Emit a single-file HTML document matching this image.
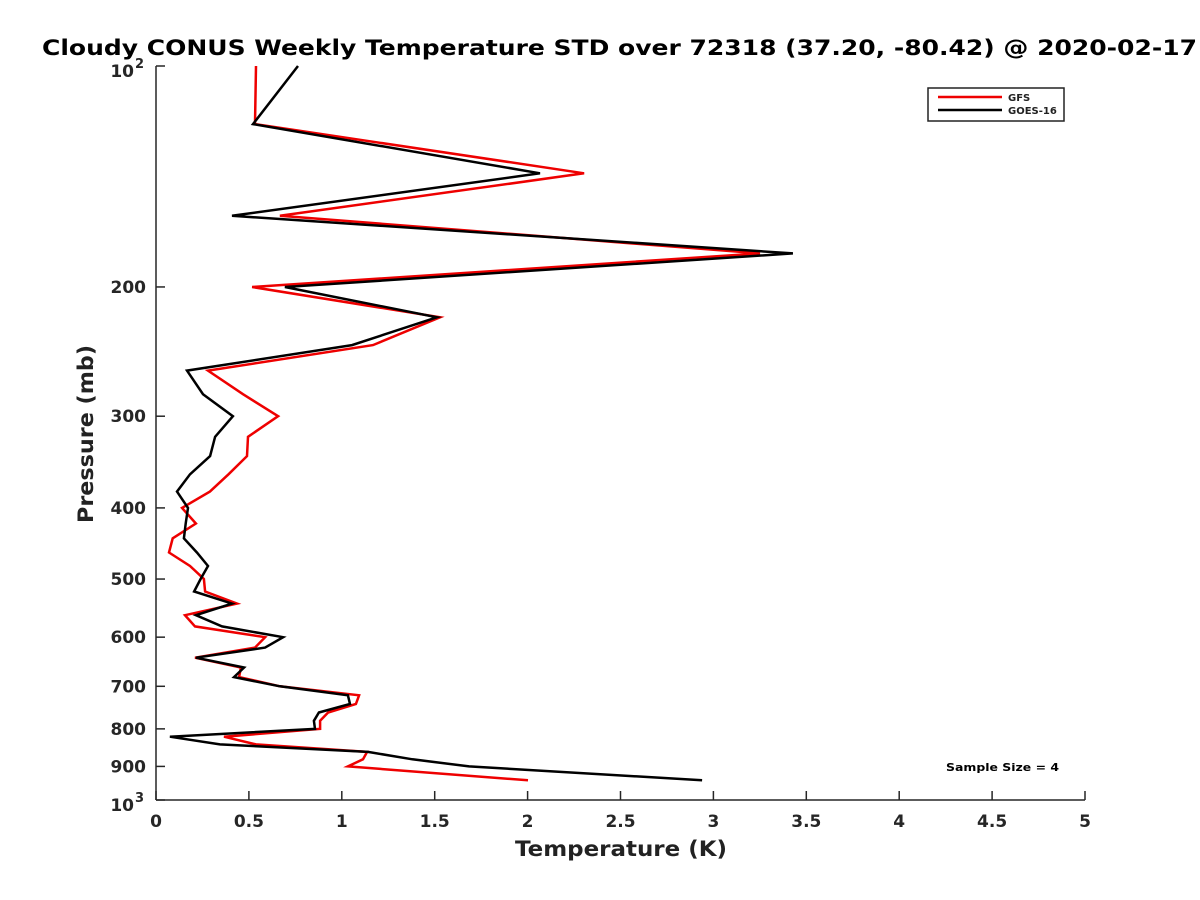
<!DOCTYPE html>
<html><head><meta charset="utf-8"><style>
html,body{margin:0;padding:0;background:#fff;}
svg{display:block;font-family:"DejaVu Sans","Liberation Sans",sans-serif;}
</style></head><body>
<svg id="chart" width="1200" height="900" viewBox="0 0 1200 900">
<text x="42" y="55" font-size="21" font-weight="bold" fill="#000" textLength="1155" lengthAdjust="spacingAndGlyphs">Cloudy CONUS Weekly Temperature STD over 72318 (37.20, -80.42) @ 2020-02-17</text>
<g id="axes"></g>
<g id="series"></g>
<g>
<rect x="928" y="88" width="136" height="33" fill="#fff" stroke="#222" stroke-width="1.5"/>
<g><line x1="938" y1="97" x2="1002" y2="97" stroke="#e00" stroke-width="2.5"/><text x="1008" y="101" font-size="10" font-weight="bold" fill="#222">GFS</text></g>
<g><line x1="938" y1="110" x2="1002" y2="110" stroke="#000" stroke-width="2.5"/><text x="1008" y="114" font-size="10" font-weight="bold" fill="#222">GOES-16</text></g>
</g>
<text x="946" y="771" font-size="11" font-weight="bold" fill="#000" textLength="113" lengthAdjust="spacingAndGlyphs">Sample Size = 4</text>
<text x="621" y="856" font-size="21" font-weight="bold" fill="#222" text-anchor="middle" textLength="212" lengthAdjust="spacingAndGlyphs">Temperature (K)</text>
<text transform="translate(93,434) rotate(-90)" font-size="21" font-weight="bold" fill="#222" text-anchor="middle" textLength="178" lengthAdjust="spacingAndGlyphs">Pressure (mb)</text>
</svg>
<script>
const pressures = [100,120,140,160,180,200,220,240,260,280,300,320,340,360,380,400,420,440,460,480,500,520,540,560,580,600,620,640,660,680,700,720,740,760,780,800,820,840,860,880,900,940];
const gfsStd = [0.538,0.533,2.304,0.667,3.251,0.517,1.529,1.168,0.28,0.468,0.657,0.495,0.49,0.39,0.29,0.14,0.215,0.09,0.07,0.183,0.258,0.264,0.436,0.156,0.21,0.587,0.533,0.21,0.457,0.447,0.667,1.093,1.076,0.926,0.883,0.883,0.366,0.538,1.136,1.114,1.033,2.002];
const goesStd = [0.764,0.522,2.067,0.409,3.428,0.694,1.512,1.055,0.167,0.253,0.414,0.318,0.291,0.183,0.113,0.172,0.16,0.15,0.22,0.28,0.24,0.205,0.409,0.215,0.355,0.684,0.587,0.215,0.474,0.42,0.667,1.033,1.044,0.877,0.85,0.856,0.075,0.344,1.141,1.38,1.685,2.939];
const xTicks = [0,0.5,1,1.5,2,2.5,3,3.5,4,4.5,5];
const xTickLabels = ["0","0.5","1","1.5","2","2.5","3","3.5","4","4.5","5"];
const yTicks = [100,200,300,400,500,600,700,800,900,1000];
const yTickLabels = ["10^2","200","300","400","500","600","700","800","900","10^3"];

const X0=156,X1=1085,Y0=66,Y1=800;
const xs = v => X0 + (v-0)/(5-0)*(X1-X0);
const ys = p => Y0 + (Math.log10(p)-2)*(Y1-Y0);
const NS="http://www.w3.org/2000/svg";
function mk(t,a,parent){const e=document.createElementNS(NS,t);for(const k in a)e.setAttribute(k,a[k]);parent.appendChild(e);return e;}
const axes=document.getElementById('axes');
const series=document.getElementById('series');
const sp1=mk('line',{x1:X0,y1:Y0,x2:X0,y2:Y1,stroke:'#262626','stroke-width':1.5},axes);


const sp2=mk('line',{x1:X0,y1:Y1,x2:X1,y2:Y1,stroke:'#262626','stroke-width':1.5},axes);


xTicks.forEach((v,i)=>{
  const x=xs(v);
  const t=mk('line',{x1:x,y1:Y1,x2:x,y2:Y1-9,stroke:'#262626','stroke-width':1.5},axes);
  
  
  const l=mk('text',{x:x,y:Y1+27,'font-size':17,'font-weight':'bold',fill:'#262626','text-anchor':'middle'},axes);
  l.textContent=xTickLabels[i];
  
  
});
yTicks.forEach((p,i)=>{
  const y=ys(p);
  const t=mk('line',{x1:X0,y1:y,x2:X0+9,y2:y,stroke:'#262626','stroke-width':1.5},axes);
  
  
  const lab=yTickLabels[i];
  const l=mk('text',{x:X0-10,y:y+6,'font-size':17,'font-weight':'bold',fill:'#262626','text-anchor':'end'},axes);
  if(lab.indexOf('^')>=0){
    const parts=lab.split('^');
    l.setAttribute('x',X0-22);
    l.setAttribute('y',y+11);
    l.textContent=parts[0];
    const s=mk('text',{x:X0-21,y:y+2,'font-size':13,'font-weight':'bold',fill:'#262626'},axes);
    s.textContent=parts[1];
    
    
  } else l.textContent=lab;
  
  
});
function draw(vals,color,name){
  const d=vals.map((v,i)=>(i?'L':'M')+xs(v).toFixed(1)+','+ys(pressures[i]).toFixed(1)).join(' ');
  const p=mk('path',{d:d,fill:'none',stroke:color,'stroke-width':2.5,'stroke-linejoin':'miter'},series);
  
  
}
draw(gfsStd,'#e00','gfs-line');
draw(goesStd,'#000','goes16-line');
</script>
</body></html>
